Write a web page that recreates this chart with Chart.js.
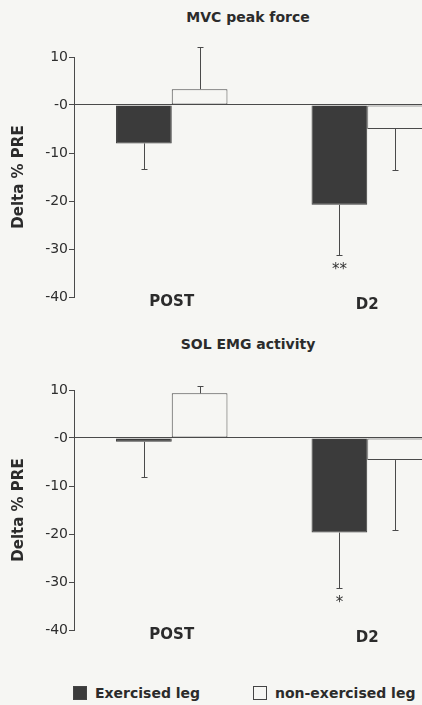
<!DOCTYPE html>
<html>
<head>
<meta charset="utf-8">
<script src="https://cdn.jsdelivr.net/npm/chart.js@4.4.1/dist/chart.umd.min.js"></script>
<style>
  html, body { margin: 0; padding: 0; }
  body {
    width: 422px; height: 705px; overflow: hidden; position: relative;
    background: #f6f6f3; color: #2b2b2b;
    font-family: "DejaVu Sans", sans-serif;
  }
  .panel { position: absolute; left: 0; width: 470px; height: 330px; }
  .title {
    position: absolute; left: 148px; width: 200px; text-align: center;
    font-weight: bold; font-size: 14px; line-height: 16px;
  }
  .legend-item { position: absolute; top: 685px; font-weight: bold; font-size: 14px; line-height: 16px; white-space: nowrap; }
  .legend-item .sw {
    display: inline-block; width: 14px; height: 14px; vertical-align: -2px;
    margin-right: 8px; border: 1px solid #444; box-sizing: border-box;
  }
</style>
</head>
<body>
<div class="title" style="top:9px">MVC peak force</div>
<div class="panel" style="top:0"><canvas id="mvcChart" width="470" height="330"></canvas></div>
<div class="title" style="top:336px">SOL EMG activity</div>
<div class="panel" style="top:333px"><canvas id="emgChart" width="470" height="330"></canvas></div>
<div id="legend"></div>

<script>
// categories and series
const categories = ['POST', 'D2'];
const seriesNames = ['Exercised leg', 'non-exercised leg'];

// MVC peak force (delta % PRE)
const mvcExercised = [-8, -20.8];
const mvcExercisedErr = [5.4, 10.5];
const mvcNonExercised = [3.3, -5];
const mvcNonExercisedErr = [8.7, 8.6];
const mvcExercisedMarks = ['', '**'];

// SOL EMG activity (delta % PRE)
const emgExercised = [-0.8, -19.7];
const emgExercisedErr = [7.3, 11.6];
const emgNonExercised = [9.3, -4.6];
const emgNonExercisedErr = [1.5, 14.5];
const emgExercisedMarks = ['', '*'];

// y axis
const yMin = -40;
const yMax = 10;
const yStep = 10;

const DARK = '#3b3b3b';
const LINE = '#4a4a4a';
const BG = '#f6f6f3';
const FONT = '"DejaVu Sans", sans-serif';

// one-sided error bars plus significance stars
const errorBars = {
    id: 'errorBars',
    afterDatasetsDraw(chart) {
        const ctx = chart.ctx;
        const yScale = chart.scales.y;
        chart.data.datasets.forEach((ds, i) => {
            const meta = chart.getDatasetMeta(i);
            meta.data.forEach((bar, j) => {
                const v = ds.data[j];
                const end = v + Math.sign(v) * ds.errors[j];
                const x = Math.round(bar.x) + 0.5;
                const y0 = yScale.getPixelForValue(v);
                const y1 = Math.round(yScale.getPixelForValue(end)) + 0.5;
                ctx.save();
                ctx.strokeStyle = LINE;
                ctx.lineWidth = 1;
                ctx.beginPath();
                ctx.moveTo(x, y0);
                ctx.lineTo(x, y1);
                ctx.moveTo(x - 3, y1);
                ctx.lineTo(x + 3, y1);
                ctx.stroke();
                const mark = ds.marks ? ds.marks[j] : '';
                if (mark) {
                    ctx.fillStyle = '#333';
                    ctx.font = '15px ' + FONT;
                    ctx.textAlign = 'center';
                    ctx.textBaseline = 'middle';
                    ctx.fillText(mark, x, y1 + 15);
                }
                ctx.restore();
            });
        });
    }
};

// category names sit right at the -40 level, overlapping the axis box,
// so they are drawn here instead of by the (clipped) tick renderer
const categoryLabels = {
    id: 'categoryLabels',
    afterDraw(chart) {
        const ctx = chart.ctx;
        const xScale = chart.scales.x;
        ctx.save();
        ctx.fillStyle = '#2b2b2b';
        ctx.font = 'bold 15px ' + FONT;
        ctx.textAlign = 'center';
        ctx.textBaseline = 'middle';
        chart.data.labels.forEach((lab, i) => {
            ctx.fillText(lab, xScale.getPixelForValue(i), chart.chartArea.bottom + 5 + i * 3);
        });
        ctx.restore();
    }
};

function makeChart(id, exVals, exErr, exMarks, nonVals, nonErr) {
    const ctx = document.getElementById(id).getContext('2d');
    return new Chart(ctx, {
        type: 'bar',
        data: {
            labels: categories,
            datasets: [{
                label: seriesNames[0],
                data: exVals,
                errors: exErr,
                marks: exMarks,
                backgroundColor: DARK,
                borderColor: DARK,
                borderWidth: 1
            }, {
                label: seriesNames[1],
                data: nonVals,
                errors: nonErr,
                backgroundColor: BG,
                borderColor: LINE,
                borderWidth: 1,
                borderSkipped: false
            }]
        },
        options: {
            responsive: false,
            animation: false,
            devicePixelRatio: 1,
            layout: { padding: { top: 57, left: 0, right: 5, bottom: 0 } },
            datasets: { bar: { barPercentage: 1, categoryPercentage: 0.57 } },
            plugins: {
                legend: { display: false },
                tooltip: { enabled: false },
                title: { display: false }
            },
            scales: {
                x: {
                    grid: { display: false },
                    border: { display: false },
                    ticks: { display: false },
                    afterFit: s => { s.height = 33; }
                },
                y: {
                    min: yMin,
                    max: yMax,
                    ticks: {
                        stepSize: yStep,
                        color: '#2e2e2e',
                        padding: 1,
                        font: { family: FONT, size: 14 },
                        callback: v => v === 0 ? '-0' : v
                    },
                    grid: {
                        color: c => (c.tick && c.tick.value === 0) ? LINE : 'rgba(0,0,0,0)',
                        tickColor: LINE,
                        tickLength: 5
                    },
                    border: { display: true, color: LINE },
                    title: {
                        display: true,
                        text: 'Delta % PRE',
                        color: '#2b2b2b',
                        font: { family: FONT, size: 15, weight: 'bold' },
                        padding: { top: 10, bottom: 0 }
                    },
                    afterFit: s => { s.width = 74; }
                }
            }
        },
        plugins: [errorBars, categoryLabels]
    });
}

makeChart('mvcChart', mvcExercised, mvcExercisedErr, mvcExercisedMarks, mvcNonExercised, mvcNonExercisedErr);
makeChart('emgChart', emgExercised, emgExercisedErr, emgExercisedMarks, emgNonExercised, emgNonExercisedErr);

// legend
const legendLeft = [73, 253];
const legendFill = [DARK, BG];
const legend = document.getElementById('legend');
seriesNames.forEach((name, i) => {
    const item = document.createElement('div');
    item.className = 'legend-item';
    item.style.left = legendLeft[i] + 'px';
    const sw = document.createElement('span');
    sw.className = 'sw';
    sw.style.background = legendFill[i];
    item.appendChild(sw);
    item.appendChild(document.createTextNode(name));
    legend.appendChild(item);
});
</script>
</body>
</html>
